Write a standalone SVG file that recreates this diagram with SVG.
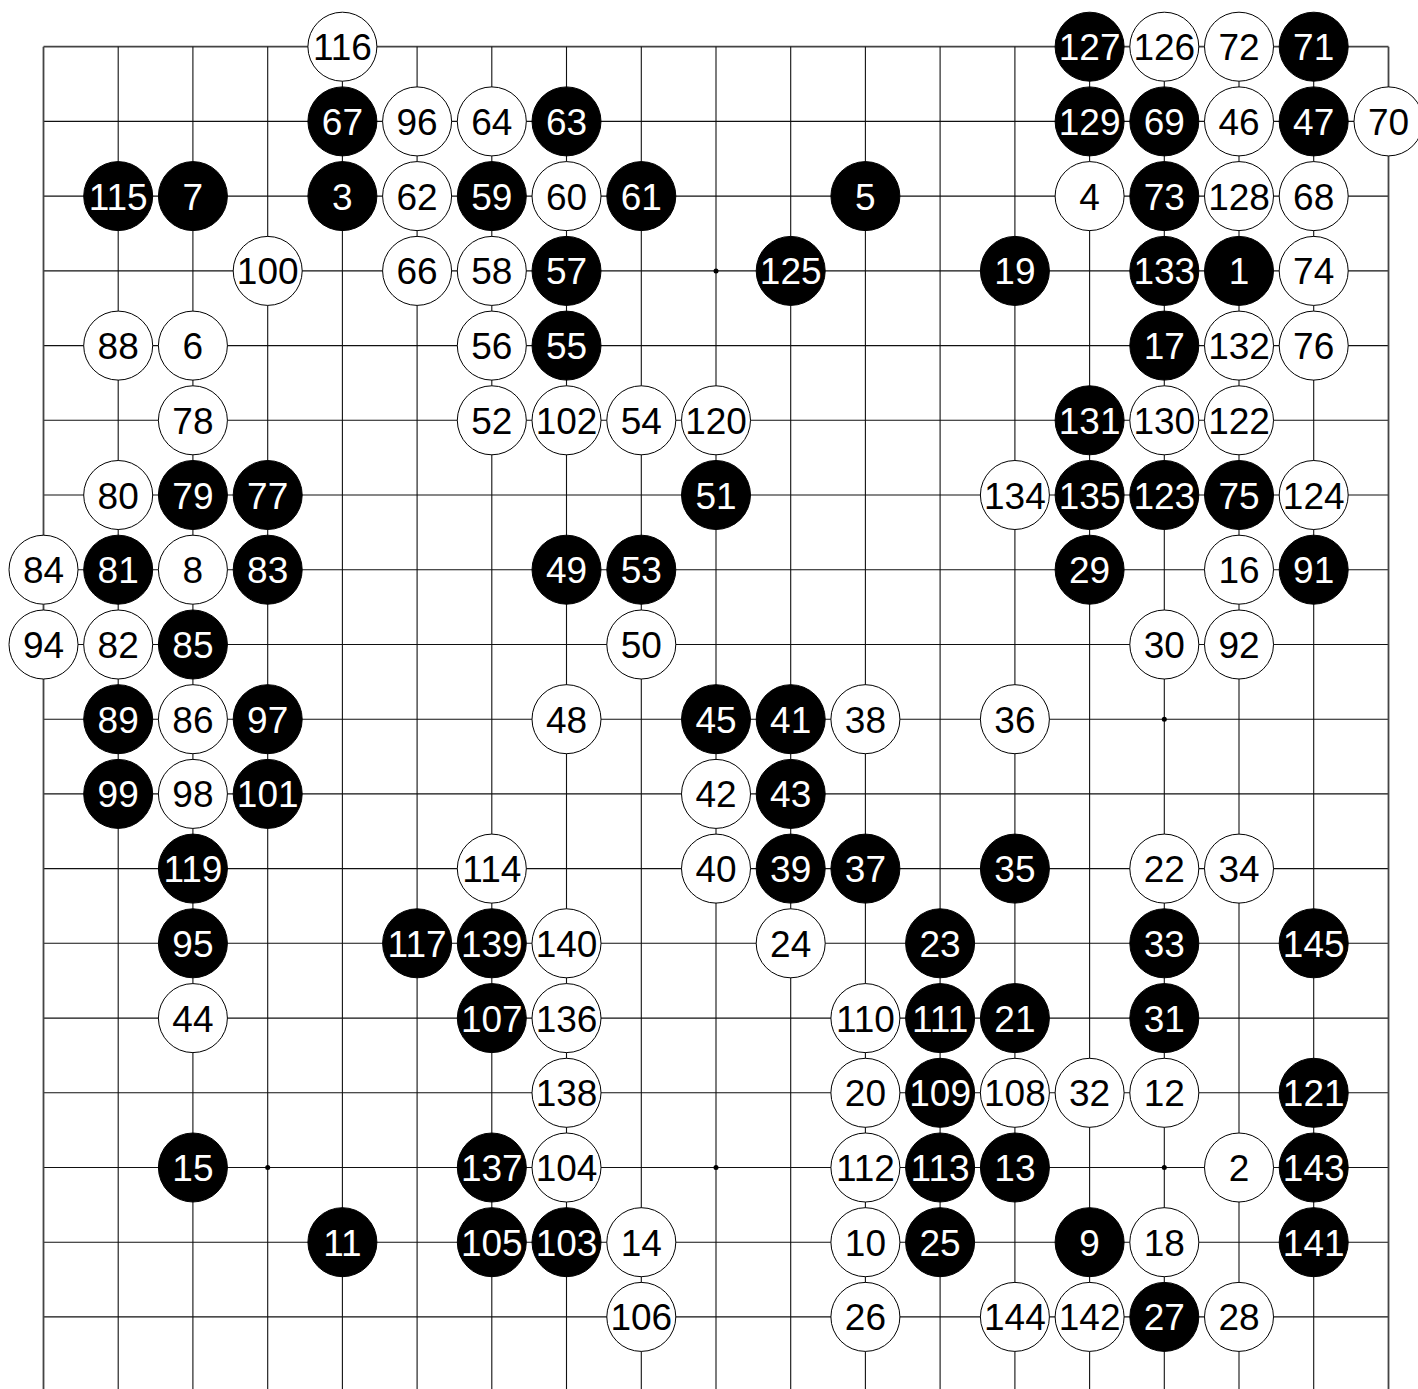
<svg xmlns="http://www.w3.org/2000/svg" width="1418" height="1389" viewBox="0 0 1418 1389">
<style>
.grid line{stroke:#111;stroke-width:1.1}
.grid line.edge{stroke:#444;stroke-width:1.8}
.b circle{fill:#000;stroke:#000;stroke-width:1}
.w circle{fill:#fff;stroke:#000;stroke-width:1}
text{font-family:"Liberation Sans",Arial,sans-serif;font-size:37px;text-anchor:middle}
.b text{fill:#fff}
.w text{fill:#000}
.hoshi{fill:#000}
</style>
<rect width="1418" height="1389" fill="#fff"/>
<g id="connectors" class="grid">
<line class="edge" x1="43.5" y1="46.7" x2="1388.5" y2="46.7"/>
<line x1="43.5" y1="121.4" x2="1388.5" y2="121.4"/>
<line x1="43.5" y1="196.1" x2="1388.5" y2="196.1"/>
<line x1="43.5" y1="270.9" x2="1388.5" y2="270.9"/>
<line x1="43.5" y1="345.6" x2="1388.5" y2="345.6"/>
<line x1="43.5" y1="420.3" x2="1388.5" y2="420.3"/>
<line x1="43.5" y1="495" x2="1388.5" y2="495"/>
<line x1="43.5" y1="569.7" x2="1388.5" y2="569.7"/>
<line x1="43.5" y1="644.5" x2="1388.5" y2="644.5"/>
<line x1="43.5" y1="719.2" x2="1388.5" y2="719.2"/>
<line x1="43.5" y1="793.9" x2="1388.5" y2="793.9"/>
<line x1="43.5" y1="868.6" x2="1388.5" y2="868.6"/>
<line x1="43.5" y1="943.3" x2="1388.5" y2="943.3"/>
<line x1="43.5" y1="1018.1" x2="1388.5" y2="1018.1"/>
<line x1="43.5" y1="1092.8" x2="1388.5" y2="1092.8"/>
<line x1="43.5" y1="1167.5" x2="1388.5" y2="1167.5"/>
<line x1="43.5" y1="1242.2" x2="1388.5" y2="1242.2"/>
<line x1="43.5" y1="1316.9" x2="1388.5" y2="1316.9"/>
<line class="edge" x1="43.5" y1="46.7" x2="43.5" y2="1389"/>
<line x1="118.2" y1="46.7" x2="118.2" y2="1389"/>
<line x1="192.9" y1="46.7" x2="192.9" y2="1389"/>
<line x1="267.7" y1="46.7" x2="267.7" y2="1389"/>
<line x1="342.4" y1="46.7" x2="342.4" y2="1389"/>
<line x1="417.1" y1="46.7" x2="417.1" y2="1389"/>
<line x1="491.8" y1="46.7" x2="491.8" y2="1389"/>
<line x1="566.5" y1="46.7" x2="566.5" y2="1389"/>
<line x1="641.3" y1="46.7" x2="641.3" y2="1389"/>
<line x1="716" y1="46.7" x2="716" y2="1389"/>
<line x1="790.7" y1="46.7" x2="790.7" y2="1389"/>
<line x1="865.4" y1="46.7" x2="865.4" y2="1389"/>
<line x1="940.1" y1="46.7" x2="940.1" y2="1389"/>
<line x1="1014.9" y1="46.7" x2="1014.9" y2="1389"/>
<line x1="1089.6" y1="46.7" x2="1089.6" y2="1389"/>
<line x1="1164.3" y1="46.7" x2="1164.3" y2="1389"/>
<line x1="1239" y1="46.7" x2="1239" y2="1389"/>
<line x1="1313.7" y1="46.7" x2="1313.7" y2="1389"/>
<line class="edge" x1="1388.5" y1="46.7" x2="1388.5" y2="1389"/>
</g>
<g id="hoshi">
<circle class="hoshi" cx="716" cy="270.9" r="2.5"/>
<circle class="hoshi" cx="1164.3" cy="719.2" r="2.5"/>
<circle class="hoshi" cx="267.7" cy="1167.5" r="2.5"/>
<circle class="hoshi" cx="716" cy="1167.5" r="2.5"/>
<circle class="hoshi" cx="1164.3" cy="1167.5" r="2.5"/>
</g>
<g id="stones">
<g id="m116" class="w" transform="translate(342.4,46.7)"><circle r="34.5"/><text y="13.5">116</text></g>
<g id="m127" class="b" transform="translate(1089.6,46.7)"><circle r="34.5"/><text y="13.5">127</text></g>
<g id="m126" class="w" transform="translate(1164.3,46.7)"><circle r="34.5"/><text y="13.5">126</text></g>
<g id="m72" class="w" transform="translate(1239,46.7)"><circle r="34.5"/><text y="13.5">72</text></g>
<g id="m71" class="b" transform="translate(1313.7,46.7)"><circle r="34.5"/><text y="13.5">71</text></g>

<g id="m67" class="b" transform="translate(342.4,121.4)"><circle r="34.5"/><text y="13.5">67</text></g>
<g id="m96" class="w" transform="translate(417.1,121.4)"><circle r="34.5"/><text y="13.5">96</text></g>
<g id="m64" class="w" transform="translate(491.8,121.4)"><circle r="34.5"/><text y="13.5">64</text></g>
<g id="m63" class="b" transform="translate(566.5,121.4)"><circle r="34.5"/><text y="13.5">63</text></g>
<g id="m129" class="b" transform="translate(1089.6,121.4)"><circle r="34.5"/><text y="13.5">129</text></g>
<g id="m69" class="b" transform="translate(1164.3,121.4)"><circle r="34.5"/><text y="13.5">69</text></g>
<g id="m46" class="w" transform="translate(1239,121.4)"><circle r="34.5"/><text y="13.5">46</text></g>
<g id="m47" class="b" transform="translate(1313.7,121.4)"><circle r="34.5"/><text y="13.5">47</text></g>
<g id="m70" class="w" transform="translate(1388.5,121.4)"><circle r="34.5"/><text y="13.5">70</text></g>

<g id="m115" class="b" transform="translate(118.2,196.1)"><circle r="34.5"/><text y="13.5">115</text></g>
<g id="m7" class="b" transform="translate(192.9,196.1)"><circle r="34.5"/><text y="13.5">7</text></g>
<g id="m3" class="b" transform="translate(342.4,196.1)"><circle r="34.5"/><text y="13.5">3</text></g>
<g id="m62" class="w" transform="translate(417.1,196.1)"><circle r="34.5"/><text y="13.5">62</text></g>
<g id="m59" class="b" transform="translate(491.8,196.1)"><circle r="34.5"/><text y="13.5">59</text></g>
<g id="m60" class="w" transform="translate(566.5,196.1)"><circle r="34.5"/><text y="13.5">60</text></g>
<g id="m61" class="b" transform="translate(641.3,196.1)"><circle r="34.5"/><text y="13.5">61</text></g>
<g id="m5" class="b" transform="translate(865.4,196.1)"><circle r="34.5"/><text y="13.5">5</text></g>
<g id="m4" class="w" transform="translate(1089.6,196.1)"><circle r="34.5"/><text y="13.5">4</text></g>
<g id="m73" class="b" transform="translate(1164.3,196.1)"><circle r="34.5"/><text y="13.5">73</text></g>
<g id="m128" class="w" transform="translate(1239,196.1)"><circle r="34.5"/><text y="13.5">128</text></g>
<g id="m68" class="w" transform="translate(1313.7,196.1)"><circle r="34.5"/><text y="13.5">68</text></g>

<g id="m100" class="w" transform="translate(267.7,270.9)"><circle r="34.5"/><text y="13.5">100</text></g>
<g id="m66" class="w" transform="translate(417.1,270.9)"><circle r="34.5"/><text y="13.5">66</text></g>
<g id="m58" class="w" transform="translate(491.8,270.9)"><circle r="34.5"/><text y="13.5">58</text></g>
<g id="m57" class="b" transform="translate(566.5,270.9)"><circle r="34.5"/><text y="13.5">57</text></g>
<g id="m125" class="b" transform="translate(790.7,270.9)"><circle r="34.5"/><text y="13.5">125</text></g>
<g id="m19" class="b" transform="translate(1014.9,270.9)"><circle r="34.5"/><text y="13.5">19</text></g>
<g id="m133" class="b" transform="translate(1164.3,270.9)"><circle r="34.5"/><text y="13.5">133</text></g>
<g id="m1" class="b" transform="translate(1239,270.9)"><circle r="34.5"/><text y="13.5">1</text></g>
<g id="m74" class="w" transform="translate(1313.7,270.9)"><circle r="34.5"/><text y="13.5">74</text></g>

<g id="m88" class="w" transform="translate(118.2,345.6)"><circle r="34.5"/><text y="13.5">88</text></g>
<g id="m6" class="w" transform="translate(192.9,345.6)"><circle r="34.5"/><text y="13.5">6</text></g>
<g id="m56" class="w" transform="translate(491.8,345.6)"><circle r="34.5"/><text y="13.5">56</text></g>
<g id="m55" class="b" transform="translate(566.5,345.6)"><circle r="34.5"/><text y="13.5">55</text></g>
<g id="m17" class="b" transform="translate(1164.3,345.6)"><circle r="34.5"/><text y="13.5">17</text></g>
<g id="m132" class="w" transform="translate(1239,345.6)"><circle r="34.5"/><text y="13.5">132</text></g>
<g id="m76" class="w" transform="translate(1313.7,345.6)"><circle r="34.5"/><text y="13.5">76</text></g>

<g id="m78" class="w" transform="translate(192.9,420.3)"><circle r="34.5"/><text y="13.5">78</text></g>
<g id="m52" class="w" transform="translate(491.8,420.3)"><circle r="34.5"/><text y="13.5">52</text></g>
<g id="m102" class="w" transform="translate(566.5,420.3)"><circle r="34.5"/><text y="13.5">102</text></g>
<g id="m54" class="w" transform="translate(641.3,420.3)"><circle r="34.5"/><text y="13.5">54</text></g>
<g id="m120" class="w" transform="translate(716,420.3)"><circle r="34.5"/><text y="13.5">120</text></g>
<g id="m131" class="b" transform="translate(1089.6,420.3)"><circle r="34.5"/><text y="13.5">131</text></g>
<g id="m130" class="w" transform="translate(1164.3,420.3)"><circle r="34.5"/><text y="13.5">130</text></g>
<g id="m122" class="w" transform="translate(1239,420.3)"><circle r="34.5"/><text y="13.5">122</text></g>

<g id="m80" class="w" transform="translate(118.2,495)"><circle r="34.5"/><text y="13.5">80</text></g>
<g id="m79" class="b" transform="translate(192.9,495)"><circle r="34.5"/><text y="13.5">79</text></g>
<g id="m77" class="b" transform="translate(267.7,495)"><circle r="34.5"/><text y="13.5">77</text></g>
<g id="m51" class="b" transform="translate(716,495)"><circle r="34.5"/><text y="13.5">51</text></g>
<g id="m134" class="w" transform="translate(1014.9,495)"><circle r="34.5"/><text y="13.5">134</text></g>
<g id="m135" class="b" transform="translate(1089.6,495)"><circle r="34.5"/><text y="13.5">135</text></g>
<g id="m123" class="b" transform="translate(1164.3,495)"><circle r="34.5"/><text y="13.5">123</text></g>
<g id="m75" class="b" transform="translate(1239,495)"><circle r="34.5"/><text y="13.5">75</text></g>
<g id="m124" class="w" transform="translate(1313.7,495)"><circle r="34.5"/><text y="13.5">124</text></g>

<g id="m84" class="w" transform="translate(43.5,569.7)"><circle r="34.5"/><text y="13.5">84</text></g>
<g id="m81" class="b" transform="translate(118.2,569.7)"><circle r="34.5"/><text y="13.5">81</text></g>
<g id="m8" class="w" transform="translate(192.9,569.7)"><circle r="34.5"/><text y="13.5">8</text></g>
<g id="m83" class="b" transform="translate(267.7,569.7)"><circle r="34.5"/><text y="13.5">83</text></g>
<g id="m49" class="b" transform="translate(566.5,569.7)"><circle r="34.5"/><text y="13.5">49</text></g>
<g id="m53" class="b" transform="translate(641.3,569.7)"><circle r="34.5"/><text y="13.5">53</text></g>
<g id="m29" class="b" transform="translate(1089.6,569.7)"><circle r="34.5"/><text y="13.5">29</text></g>
<g id="m16" class="w" transform="translate(1239,569.7)"><circle r="34.5"/><text y="13.5">16</text></g>
<g id="m91" class="b" transform="translate(1313.7,569.7)"><circle r="34.5"/><text y="13.5">91</text></g>

<g id="m94" class="w" transform="translate(43.5,644.5)"><circle r="34.5"/><text y="13.5">94</text></g>
<g id="m82" class="w" transform="translate(118.2,644.5)"><circle r="34.5"/><text y="13.5">82</text></g>
<g id="m85" class="b" transform="translate(192.9,644.5)"><circle r="34.5"/><text y="13.5">85</text></g>
<g id="m50" class="w" transform="translate(641.3,644.5)"><circle r="34.5"/><text y="13.5">50</text></g>
<g id="m30" class="w" transform="translate(1164.3,644.5)"><circle r="34.5"/><text y="13.5">30</text></g>
<g id="m92" class="w" transform="translate(1239,644.5)"><circle r="34.5"/><text y="13.5">92</text></g>

<g id="m89" class="b" transform="translate(118.2,719.2)"><circle r="34.5"/><text y="13.5">89</text></g>
<g id="m86" class="w" transform="translate(192.9,719.2)"><circle r="34.5"/><text y="13.5">86</text></g>
<g id="m97" class="b" transform="translate(267.7,719.2)"><circle r="34.5"/><text y="13.5">97</text></g>
<g id="m48" class="w" transform="translate(566.5,719.2)"><circle r="34.5"/><text y="13.5">48</text></g>
<g id="m45" class="b" transform="translate(716,719.2)"><circle r="34.5"/><text y="13.5">45</text></g>
<g id="m41" class="b" transform="translate(790.7,719.2)"><circle r="34.5"/><text y="13.5">41</text></g>
<g id="m38" class="w" transform="translate(865.4,719.2)"><circle r="34.5"/><text y="13.5">38</text></g>
<g id="m36" class="w" transform="translate(1014.9,719.2)"><circle r="34.5"/><text y="13.5">36</text></g>

<g id="m99" class="b" transform="translate(118.2,793.9)"><circle r="34.5"/><text y="13.5">99</text></g>
<g id="m98" class="w" transform="translate(192.9,793.9)"><circle r="34.5"/><text y="13.5">98</text></g>
<g id="m101" class="b" transform="translate(267.7,793.9)"><circle r="34.5"/><text y="13.5">101</text></g>
<g id="m42" class="w" transform="translate(716,793.9)"><circle r="34.5"/><text y="13.5">42</text></g>
<g id="m43" class="b" transform="translate(790.7,793.9)"><circle r="34.5"/><text y="13.5">43</text></g>

<g id="m119" class="b" transform="translate(192.9,868.6)"><circle r="34.5"/><text y="13.5">119</text></g>
<g id="m114" class="w" transform="translate(491.8,868.6)"><circle r="34.5"/><text y="13.5">114</text></g>
<g id="m40" class="w" transform="translate(716,868.6)"><circle r="34.5"/><text y="13.5">40</text></g>
<g id="m39" class="b" transform="translate(790.7,868.6)"><circle r="34.5"/><text y="13.5">39</text></g>
<g id="m37" class="b" transform="translate(865.4,868.6)"><circle r="34.5"/><text y="13.5">37</text></g>
<g id="m35" class="b" transform="translate(1014.9,868.6)"><circle r="34.5"/><text y="13.5">35</text></g>
<g id="m22" class="w" transform="translate(1164.3,868.6)"><circle r="34.5"/><text y="13.5">22</text></g>
<g id="m34" class="w" transform="translate(1239,868.6)"><circle r="34.5"/><text y="13.5">34</text></g>

<g id="m95" class="b" transform="translate(192.9,943.3)"><circle r="34.5"/><text y="13.5">95</text></g>
<g id="m117" class="b" transform="translate(417.1,943.3)"><circle r="34.5"/><text y="13.5">117</text></g>
<g id="m139" class="b" transform="translate(491.8,943.3)"><circle r="34.5"/><text y="13.5">139</text></g>
<g id="m140" class="w" transform="translate(566.5,943.3)"><circle r="34.5"/><text y="13.5">140</text></g>
<g id="m24" class="w" transform="translate(790.7,943.3)"><circle r="34.5"/><text y="13.5">24</text></g>
<g id="m23" class="b" transform="translate(940.1,943.3)"><circle r="34.5"/><text y="13.5">23</text></g>
<g id="m33" class="b" transform="translate(1164.3,943.3)"><circle r="34.5"/><text y="13.5">33</text></g>
<g id="m145" class="b" transform="translate(1313.7,943.3)"><circle r="34.5"/><text y="13.5">145</text></g>

<g id="m44" class="w" transform="translate(192.9,1018.1)"><circle r="34.5"/><text y="13.5">44</text></g>
<g id="m107" class="b" transform="translate(491.8,1018.1)"><circle r="34.5"/><text y="13.5">107</text></g>
<g id="m136" class="w" transform="translate(566.5,1018.1)"><circle r="34.5"/><text y="13.5">136</text></g>
<g id="m110" class="w" transform="translate(865.4,1018.1)"><circle r="34.5"/><text y="13.5">110</text></g>
<g id="m111" class="b" transform="translate(940.1,1018.1)"><circle r="34.5"/><text y="13.5">111</text></g>
<g id="m21" class="b" transform="translate(1014.9,1018.1)"><circle r="34.5"/><text y="13.5">21</text></g>
<g id="m31" class="b" transform="translate(1164.3,1018.1)"><circle r="34.5"/><text y="13.5">31</text></g>

<g id="m138" class="w" transform="translate(566.5,1092.8)"><circle r="34.5"/><text y="13.5">138</text></g>
<g id="m20" class="w" transform="translate(865.4,1092.8)"><circle r="34.5"/><text y="13.5">20</text></g>
<g id="m109" class="b" transform="translate(940.1,1092.8)"><circle r="34.5"/><text y="13.5">109</text></g>
<g id="m108" class="w" transform="translate(1014.9,1092.8)"><circle r="34.5"/><text y="13.5">108</text></g>
<g id="m32" class="w" transform="translate(1089.6,1092.8)"><circle r="34.5"/><text y="13.5">32</text></g>
<g id="m12" class="w" transform="translate(1164.3,1092.8)"><circle r="34.5"/><text y="13.5">12</text></g>
<g id="m121" class="b" transform="translate(1313.7,1092.8)"><circle r="34.5"/><text y="13.5">121</text></g>

<g id="m15" class="b" transform="translate(192.9,1167.5)"><circle r="34.5"/><text y="13.5">15</text></g>
<g id="m137" class="b" transform="translate(491.8,1167.5)"><circle r="34.5"/><text y="13.5">137</text></g>
<g id="m104" class="w" transform="translate(566.5,1167.5)"><circle r="34.5"/><text y="13.5">104</text></g>
<g id="m112" class="w" transform="translate(865.4,1167.5)"><circle r="34.5"/><text y="13.5">112</text></g>
<g id="m113" class="b" transform="translate(940.1,1167.5)"><circle r="34.5"/><text y="13.5">113</text></g>
<g id="m13" class="b" transform="translate(1014.9,1167.5)"><circle r="34.5"/><text y="13.5">13</text></g>
<g id="m2" class="w" transform="translate(1239,1167.5)"><circle r="34.5"/><text y="13.5">2</text></g>
<g id="m143" class="b" transform="translate(1313.7,1167.5)"><circle r="34.5"/><text y="13.5">143</text></g>

<g id="m11" class="b" transform="translate(342.4,1242.2)"><circle r="34.5"/><text y="13.5">11</text></g>
<g id="m105" class="b" transform="translate(491.8,1242.2)"><circle r="34.5"/><text y="13.5">105</text></g>
<g id="m103" class="b" transform="translate(566.5,1242.2)"><circle r="34.5"/><text y="13.5">103</text></g>
<g id="m14" class="w" transform="translate(641.3,1242.2)"><circle r="34.5"/><text y="13.5">14</text></g>
<g id="m10" class="w" transform="translate(865.4,1242.2)"><circle r="34.5"/><text y="13.5">10</text></g>
<g id="m25" class="b" transform="translate(940.1,1242.2)"><circle r="34.5"/><text y="13.5">25</text></g>
<g id="m9" class="b" transform="translate(1089.6,1242.2)"><circle r="34.5"/><text y="13.5">9</text></g>
<g id="m18" class="w" transform="translate(1164.3,1242.2)"><circle r="34.5"/><text y="13.5">18</text></g>
<g id="m141" class="b" transform="translate(1313.7,1242.2)"><circle r="34.5"/><text y="13.5">141</text></g>

<g id="m106" class="w" transform="translate(641.3,1316.9)"><circle r="34.5"/><text y="13.5">106</text></g>
<g id="m26" class="w" transform="translate(865.4,1316.9)"><circle r="34.5"/><text y="13.5">26</text></g>
<g id="m144" class="w" transform="translate(1014.9,1316.9)"><circle r="34.5"/><text y="13.5">144</text></g>
<g id="m142" class="w" transform="translate(1089.6,1316.9)"><circle r="34.5"/><text y="13.5">142</text></g>
<g id="m27" class="b" transform="translate(1164.3,1316.9)"><circle r="34.5"/><text y="13.5">27</text></g>
<g id="m28" class="w" transform="translate(1239,1316.9)"><circle r="34.5"/><text y="13.5">28</text></g>
</g>
</svg>
